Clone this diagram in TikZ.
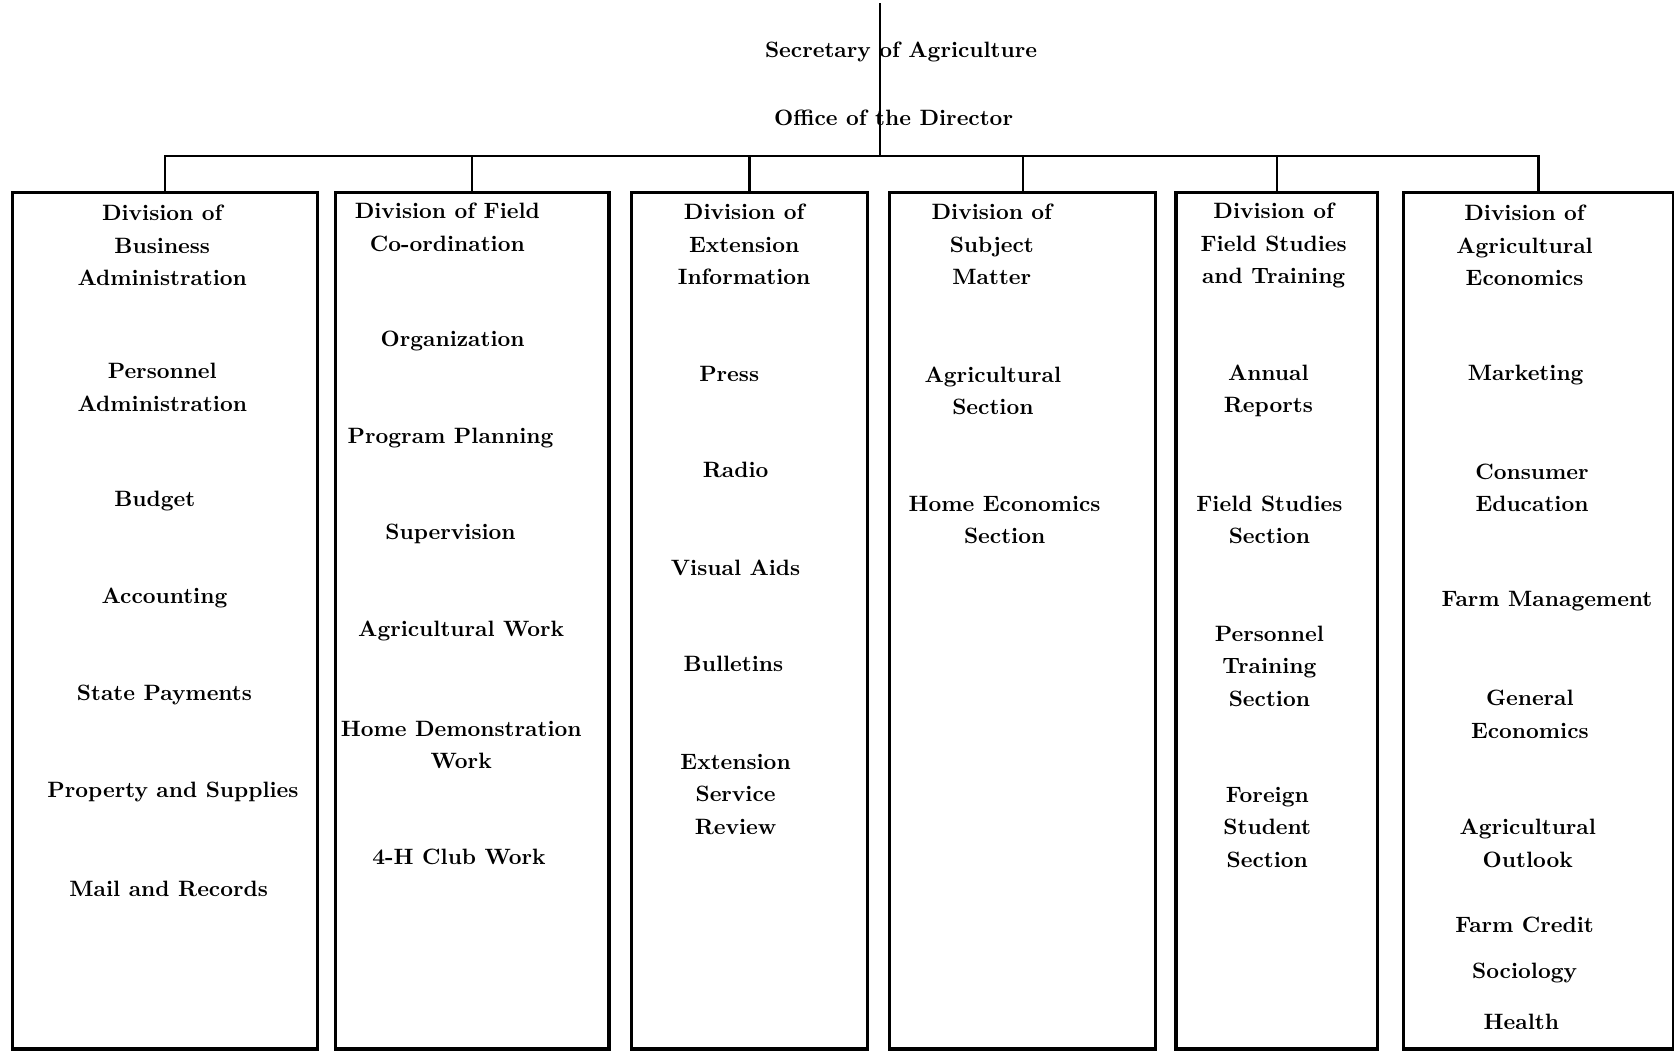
\documentclass[tikz,border=0pt]{standalone}
\usepackage{tikz}

\tikzset{every picture/.style={line width=1pt}}
\tikzset{
	divbox/.style={draw, line width=1.5pt, anchor=north west, inner sep=0pt, minimum height=401pt},
	lbl/.style={align=center, inner sep=0pt, font=\bfseries\fontsize{10.4}{15.2}\selectfont}}

\begin{document}
\begin{tikzpicture}[x=0.5pt,y=0.5pt,yscale=-1,xscale=1]
	\useasboundingbox (0,0) rectangle (1568,984);

	%Shape: Rectangle
	\node[divbox, minimum width=143pt] (d1) at (10,179) {};
	%Shape: Rectangle
	\node[divbox, minimum width=128pt] (d2) at (313,179) {};
	%Shape: Rectangle
	\node[divbox, minimum width=110.5pt] (d3) at (590,179) {};
	%Shape: Rectangle
	\node[divbox, minimum width=124.5pt] (d4) at (832,179) {};
	%Shape: Rectangle
	\node[divbox, minimum width=94.5pt] (d5) at (1100,179) {};
	%Shape: Rectangle
	\node[divbox, minimum width=126.5pt] (d6) at (1313,179) {};

	%Straight Lines
	\coordinate (top) at (824,3);
	\coordinate (bus) at (824,146);
	\draw (top) -- (bus);
	\draw (d1.north) |- (d6.north |- bus) -- (d6.north);
	\foreach \n in {2,...,5}
		\draw (d\n.north) -- (d\n.north |- bus);

	% Text Node
	\node[lbl] (sec) at (844,49) {Secretary of Agriculture};
	% Text Node
	\node[lbl] (dir) at (837,110) {Office of the Director};

	% Text Node
	\node[lbl] (d1h) at (152,230) {Division of\\Business\\Administration};
	\node[lbl] (d1a) at (152,363) {Personnel\\Administration};
	\node[lbl] (d1b) at (145,469) {Budget};
	\node[lbl] (d1c) at (154,560) {Accounting};
	\node[lbl] (d1d) at (154,651) {State Payments};
	\node[lbl] (d1e) at (162,742) {Property and Supplies};
	\node[lbl] (d1f) at (158,833) {Mail and Records};

	% Text Node
	\node[lbl] (d2h) at (419,213) {Division of Field\\Co-ordination};
	\node[lbl] (d2a) at (424,319) {Organization};
	\node[lbl] (d2b) at (422,410) {Program Planning};
	\node[lbl] (d2c) at (422,500) {Supervision};
	\node[lbl] (d2d) at (432,591) {Agricultural Work};
	\node[lbl] (d2e) at (432,698) {Home Demonstration\\Work};
	\node[lbl] (d2f) at (430,803) {4-H Club Work};

	% Text Node
	\node[lbl] (d3h) at (697,229) {Division of\\Extension\\Information};
	\node[lbl] (d3a) at (683,350) {Press};
	\node[lbl] (d3b) at (689,440) {Radio};
	\node[lbl] (d3c) at (689,532) {Visual Aids};
	\node[lbl] (d3d) at (687,622) {Bulletins};
	\node[lbl] (d3e) at (689,744) {Extension\\Service\\Review};

	% Text Node
	\node[lbl] (d4h) at (929,229) {Division of\\Subject\\Matter};
	\node[lbl] (d4a) at (930,366) {Agricultural\\Section};
	\node[lbl] (d4b) at (941,487) {Home Economics\\Section};

	% Text Node
	\node[lbl] (d5h) at (1193,230) {Division of\\Field Studies\\and Training};
	\node[lbl] (d5a) at (1188,366) {Annual\\Reports};
	\node[lbl] (d5b) at (1189,487) {Field Studies\\Section};
	\node[lbl] (d5c) at (1189,624) {Personnel\\Training\\Section};
	\node[lbl] (d5d) at (1187,775) {Foreign\\Student\\Section};

	% Text Node
	\node[lbl] (d6h) at (1428,230) {Division of\\Agricultural\\Economics};
	\node[lbl] (d6a) at (1429,351) {Marketing};
	\node[lbl] (d6b) at (1435,457) {Consumer\\Education};
	\node[lbl] (d6c) at (1449,563) {Farm Management};
	\node[lbl] (d6d) at (1433,669) {General\\Economics};
	\node[lbl] (d6e) at (1431,790) {Agricultural\\Outlook};
	\node[lbl] (d6f) at (1428,866) {Farm Credit};
	\node[lbl] (d6g) at (1428,911) {Sociology};
	\node[lbl] (d6h2) at (1425,957) {Health};

\end{tikzpicture}
\end{document}
